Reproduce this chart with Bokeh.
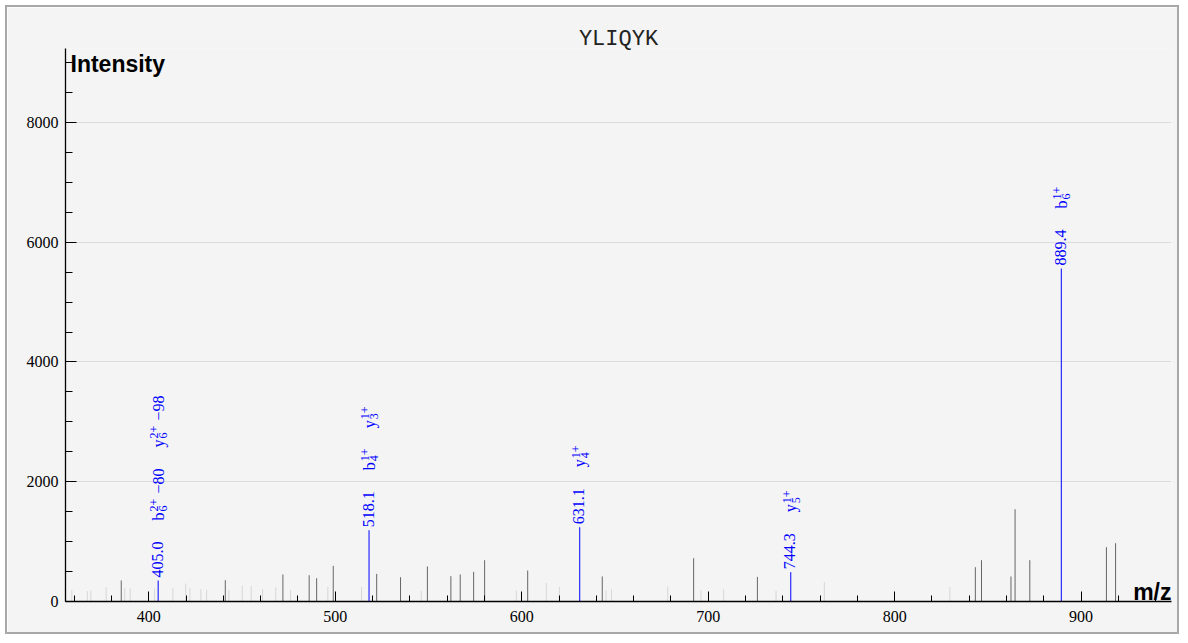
import numpy as np
from bokeh.plotting import figure
from bokeh.models import ColumnDataSource, SingleIntervalTicker
from bokeh.embed import file_html
from bokeh.resources import INLINE
from bokeh.core.properties import value

title_text = "YLIQYK"
x_label = "m/z"
y_label = "Intensity"

# unannotated peaks (dark gray)
dark_mz = [385.2, 441.0, 471.9, 486.0, 490.0, 498.9, 522.2, 535.0, 549.4, 562.0,
           567.0, 574.2, 580.1, 603.2, 643.2, 692.2, 726.4, 843.3, 846.6, 862.4,
           864.6, 872.5, 913.6, 918.5]
dark_int = [351, 356, 451, 439, 389, 595, 461, 406, 584, 423,
            451, 495, 690, 517, 418, 723, 411, 573, 690, 418,
            1541, 690, 907, 974]

# unannotated peaks (light gray)
light_mz = [358.7, 367.0, 368.9, 377.1, 387.1, 390.0, 403.1, 412.9, 419.8, 422.0,
            427.9, 431.0, 442.9, 450.1, 454.9, 461.0, 468.1, 476.0, 496.0, 514.1,
            546.1, 597.1, 613.2, 620.2, 645.2, 648.1, 678.3, 696.1, 708.3, 736.4,
            762.3, 829.6]
light_int = [189, 172, 189, 239, 222, 217, 217, 222, 300, 227,
             205, 194, 194, 267, 256, 205, 234, 189, 244, 239,
             172, 184, 306, 244, 189, 205, 250, 189, 205, 178,
             328, 239]

# annotated peaks (blue)
ann_mz = [405.0, 518.1, 631.1, 744.3, 889.4]
ann_int = [350, 1190, 1240, 490, 5560]

# fragment ion labels per annotated peak
ion_peak = [0, 0, 1, 1, 2, 3, 4]
ion_type = ["b", "y", "b", "y", "y", "y", "b"]
ion_num = ["6", "6", "4", "3", "4", "5", "6"]
ion_charge = ["2+", "2+", "1+", "1+", "1+", "1+", "1+"]
ion_loss = ["\u221280", "\u221298", "", "", "", "", ""]

BG = "#f4f4f4"
BLUE = "#0000ff"

p = figure(width=1174, height=629, x_range=(355.3, 948.5), y_range=(0, 9235),
           output_backend="svg", toolbar_location=None,
           min_border_left=58, min_border_right=10, min_border_top=41,
           min_border_bottom=35)
p.styles = {"border": "2px solid #a8a8a8", "margin": "5px"}
p.background_fill_color = BG
p.border_fill_color = BG
p.outline_line_color = None

p.title.text = title_text
p.title.text_font = "Liberation Mono"
p.title.text_font_size = "22px"
p.title.text_font_style = "normal"
p.title.text_color = "#222222"
p.title.align = "center"
p.title.standoff = -6

# axes
p.xaxis.ticker = SingleIntervalTicker(interval=100, num_minor_ticks=5)
p.yaxis.ticker = SingleIntervalTicker(interval=2000, num_minor_ticks=4)
for ax in (p.xaxis[0], p.yaxis[0]):
    ax.axis_line_color = "black"
    ax.axis_line_width = 1.3
    ax.major_tick_line_color = "black"
    ax.minor_tick_line_color = "black"
    ax.major_tick_out = 0
    ax.minor_tick_out = 0
    ax.major_label_text_font = "Liberation Serif"
    ax.major_label_text_font_size = "16px"
    ax.major_label_text_color = "black"
p.xaxis.major_tick_in = 10
p.xaxis.minor_tick_in = 6
p.yaxis.major_tick_in = 11
p.yaxis.minor_tick_in = 7
p.xaxis.major_label_standoff = 9
p.yaxis.major_label_standoff = 7
p.xgrid.grid_line_color = None
p.ygrid.grid_line_color = "#dcdcdc"
p.ygrid.grid_line_width = 1

# peaks
p.segment(x0=light_mz, y0=0, x1=light_mz, y1=light_int, line_color="#d6d6d6", line_width=1)
p.segment(x0=dark_mz, y0=0, x1=dark_mz, y1=dark_int, line_color="#666666", line_width=1)
p.segment(x0=ann_mz, y0=0, x1=ann_mz, y1=ann_int, line_color=BLUE, line_width=1)

# annotation text pieces (rotated, stacked upward from each peak top)
big = dict(x=[], y=[], text=[], xo=[], yo=[])
small = dict(x=[], y=[], text=[], xo=[], yo=[])


def add(d, x, y, t, xo, yo):
    d["x"].append(x); d["y"].append(y); d["text"].append(t)
    d["xo"].append(xo); d["yo"].append(yo)


def slen(s):
    return sum(4 if c == "." else 8 for c in s)


for i, (mz, inten) in enumerate(zip(ann_mz, ann_int)):
    lab = f"{mz:.1f}"
    cur = 3
    add(big, mz, inten, lab, -1, -cur)
    cur += slen(lab) + 21
    for k in range(len(ion_peak)):
        if ion_peak[k] != i:
            continue
        add(big, mz, inten, ion_type[k], 0, -cur)
        add(small, mz, inten, ion_charge[k], -4, -(cur + 9))
        add(small, mz, inten, ion_num[k], 5, -(cur + 9))
        length = 21
        if ion_loss[k]:
            add(big, mz, inten, ion_loss[k], 0, -(cur + 27))
            length = 52
        cur += length + 21

p.text(x="x", y="y", text="text", x_offset="xo", y_offset="yo", angle=np.pi / 2,
       text_align="left", text_baseline="middle", text_font=value("Liberation Serif"),
       text_font_size="16px", text_color=BLUE, source=ColumnDataSource(big))
p.text(x="x", y="y", text="text", x_offset="xo", y_offset="yo", angle=np.pi / 2,
       text_align="left", text_baseline="middle", text_font=value("Liberation Serif"),
       text_font_size="12px", text_color=BLUE, source=ColumnDataSource(small))

# axis titles inside the frame
p.text(x=[p.x_range.start], y=[p.y_range.end], text=[y_label], x_offset=5, y_offset=2,
       text_align="left", text_baseline="top", text_font=value("Liberation Sans"),
       text_font_size="23px", text_font_style="bold", text_color="black")
p.text(x=[p.x_range.end], y=[0], text=[x_label], x_offset=0, y_offset=3,
       text_align="right", text_baseline="bottom", text_font=value("Liberation Sans"),
       text_font_size="23px", text_font_style="bold", text_color="black")

open("out.html", "w").write(file_html(p, INLINE))
